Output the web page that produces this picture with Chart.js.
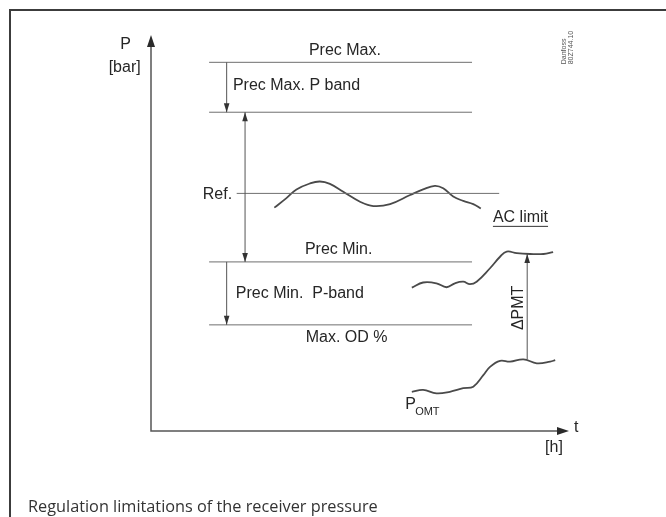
<!DOCTYPE html>
<html><head><meta charset="utf-8">
<script src="https://cdn.jsdelivr.net/npm/chart.js@4"></script>
<style>
html,body{margin:0;padding:0;background:#fff;}
#wrap{position:relative;width:666px;height:517px;overflow:hidden;background:#fff;}
#frame{position:absolute;left:9px;top:9px;width:700px;height:600px;border-top:2px solid #3c3c3c;border-left:2px solid #3c3c3c;}
#cap{position:absolute;left:28px;top:496px;font-family:"Open Sans",sans-serif;font-size:16.3px;color:#333;white-space:nowrap;line-height:20px;}
canvas{position:absolute;left:0;top:0;}
</style></head><body>
<div id="wrap"><div id="frame"></div><canvas id="c" width="666" height="517"></canvas><div id="cap">Regulation limitations of the receiver pressure</div></div>
<script>
// Level lines (pressure levels, arbitrary units 0..100)
const levelNames  = ['Prec Max.', 'Prec Max. P band', 'Ref.', 'Prec Min.', 'Max. OD %'];
const levelValues = [93.1, 80.5, 60.0, 42.7, 26.8];
const levelStart  = [13.9, 13.9, 20.5, 13.9, 13.9];
const levelEnd    = [76.8, 76.8, 83.3, 76.8, 76.8];

// Reference pressure curve (oscillates around Ref.)
const refT = [29.5, 32.4, 34.8, 38.0, 40.4, 42.8, 46.0, 50.0, 53.2, 57.2, 62.0, 65.1, 67.9, 69.9, 72.3, 74.7, 77.1, 78.9];
const refP = [56.4, 58.8, 61.0, 62.5, 63.0, 62.4, 60.4, 57.9, 56.8, 57.3, 59.6, 61.0, 61.9, 61.3, 59.2, 58.1, 57.3, 56.2];

// Upper curve (P_OMT + ΔPMT)
const upperT = [62.4, 65.1, 68.3, 70.7, 72.7, 74.7, 76.3, 77.9, 81.1, 83.5, 85.1, 87.5, 90.7, 93.9, 96.2];
const upperP = [36.2, 37.5, 37.3, 36.3, 37.3, 37.7, 37.1, 37.7, 41.1, 44.0, 45.3, 44.9, 44.7, 44.7, 45.2];

// Lower curve (P_OMT)
const lowerT = [62.4, 65.1, 68.3, 71.5, 74.7, 77.1, 79.5, 81.1, 83.5, 85.9, 89.1, 92.3, 95.5, 96.7];
const lowerP = [9.9, 10.4, 9.5, 9.9, 10.8, 11.2, 14.1, 16.2, 17.7, 17.5, 18.1, 17.1, 17.5, 17.9];

// Dimension arrows: position on t, from level, to level
const arrowT    = [18.1, 22.5, 18.1, 90.0];
const arrowFrom = [93.1, 80.5, 42.7, 18.1];
const arrowTo   = [80.5, 42.7, 26.8, 44.7];
const arrowBoth = [false, true, false, false];

const pts = (xs, ys) => xs.map((x, i) => ({x: x, y: ys[i]}));

const datasets = [];
levelValues.forEach((v, i) => {
  datasets.push({label: levelNames[i], data: [{x: levelStart[i], y: v}, {x: levelEnd[i], y: v}],
    showLine: true, borderColor: '#6f6f6f', borderWidth: 1, pointRadius: 0, tension: 0});
});
datasets.push({label: 'Ref curve', data: pts(refT, refP), showLine: true, borderColor: '#4a4a4a', borderWidth: 1.8, pointRadius: 0, tension: 0.4});
datasets.push({label: 'Upper', data: pts(upperT, upperP), showLine: true, borderColor: '#4a4a4a', borderWidth: 1.8, pointRadius: 0, tension: 0.4});
datasets.push({label: 'P_OMT', data: pts(lowerT, lowerP), showLine: true, borderColor: '#4a4a4a', borderWidth: 1.8, pointRadius: 0, tension: 0.4});

function head(ctx, x1, y1, x2, y2, len, hw) {
  const a = Math.atan2(y2 - y1, x2 - x1);
  ctx.beginPath();
  ctx.moveTo(x2, y2);
  ctx.lineTo(x2 - len * Math.cos(a) + hw * Math.sin(a), y2 - len * Math.sin(a) - hw * Math.cos(a));
  ctx.lineTo(x2 - len * Math.cos(a) - hw * Math.sin(a), y2 - len * Math.sin(a) + hw * Math.cos(a));
  ctx.closePath();
  ctx.fill();
}

const diagram = {
  id: 'diagram',
  afterDatasetsDraw(chart) {
    const ctx = chart.ctx;
    const X = v => chart.scales.x.getPixelForValue(v);
    const Y = v => chart.scales.y.getPixelForValue(v);
    ctx.save();
    // axes
    ctx.strokeStyle = '#555'; ctx.fillStyle = '#2a2a2a'; ctx.lineWidth = 1.5;
    ctx.beginPath();
    ctx.moveTo(X(0), Y(100) + 8); ctx.lineTo(X(0), Y(0)); ctx.lineTo(X(100) - 8, Y(0));
    ctx.stroke();
    head(ctx, X(0), Y(0), X(0), Y(100), 12, 4);
    head(ctx, X(0), Y(0), X(100), Y(0), 12, 4);
    // dimension arrows
    ctx.lineWidth = 1; ctx.strokeStyle = '#555'; ctx.fillStyle = '#333';
    arrowT.forEach((t, i) => {
      const x = X(t), y1 = Y(arrowFrom[i]), y2 = Y(arrowTo[i]);
      ctx.beginPath(); ctx.moveTo(x, y1); ctx.lineTo(x, y2); ctx.stroke();
      head(ctx, x, y1, x, y2, 9, 2.8);
      if (arrowBoth[i]) head(ctx, x, y2, x, y1, 9, 2.8);
    });
    // texts
    ctx.fillStyle = '#262626';
    ctx.font = '16px "Liberation Sans", Arial, sans-serif';
    ctx.textBaseline = 'middle';
    const txt = (s, t, p, align) => { ctx.textAlign = align; ctx.fillText(s, X(t), Y(p)); };
    txt('P', -6.1, 97.5, 'center');
    txt('[bar]', -6.3, 91.7, 'center');
    txt('Prec Max.', 46.4, 96.0, 'center');
    txt('Prec Max. P band', 19.6, 87.1, 'left');
    txt('Ref.', 19.4, 59.8, 'right');
    txt('AC limit', 81.8, 53.8, 'left');
    const acw = ctx.measureText('AC limit').width;
    ctx.strokeStyle = '#333'; ctx.lineWidth = 1;
    ctx.beginPath(); ctx.moveTo(X(81.8), Y(51.8) + 0.5); ctx.lineTo(X(81.8) + acw, Y(51.8) + 0.5); ctx.stroke();
    txt('Prec Min.', 44.9, 45.7, 'center');
    txt('Prec Min.  P-band', 20.3, 34.8, 'left');
    txt('Max. OD %', 46.8, 23.5, 'center');
    txt('t', 101.7, 0.8, 'center');
    txt('[h]', 96.4, -4.3, 'center');
    txt('P', 60.8, 6.6, 'left');
    ctx.font = '11px "Liberation Sans", Arial, sans-serif';
    ctx.textBaseline = 'alphabetic';
    ctx.textAlign = 'left';
    ctx.fillText('OMT', X(60.8) + 10, Y(6.6) + 10);
    // rotated ΔPMT
    ctx.font = '16px "Liberation Sans", Arial, sans-serif';
    ctx.save();
    ctx.translate(X(88.0), Y(31.1)); ctx.rotate(-Math.PI / 2);
    ctx.textAlign = 'center'; ctx.textBaseline = 'middle';
    ctx.fillText('\u0394PMT', 0, 0);
    ctx.restore();
    // Danfoss reference
    ctx.save();
    ctx.fillStyle = '#555';
    ctx.font = '7px "Liberation Sans", Arial, sans-serif';
    ctx.translate(X(98.9), Y(92.6)); ctx.rotate(-Math.PI / 2);
    ctx.textAlign = 'left'; ctx.textBaseline = 'middle';
    ctx.fillText('Danfoss', 0, 0);
    ctx.fillText('80Z744.10', 0, 7);
    ctx.restore();
    ctx.restore();
  }
};

new Chart(document.getElementById('c'), {
  type: 'scatter',
  data: {datasets: datasets},
  options: {
    responsive: false, animation: false, devicePixelRatio: 1,
    layout: {padding: {left: 151, right: 97, top: 35, bottom: 86}},
    scales: {
      x: {type: 'linear', min: 0, max: 100, display: false},
      y: {type: 'linear', min: 0, max: 100, display: false}
    },
    plugins: {legend: {display: false}, tooltip: {enabled: false}},
    elements: {line: {capBezierPoints: true}}
  },
  plugins: [diagram]
});
</script>
</body></html>
